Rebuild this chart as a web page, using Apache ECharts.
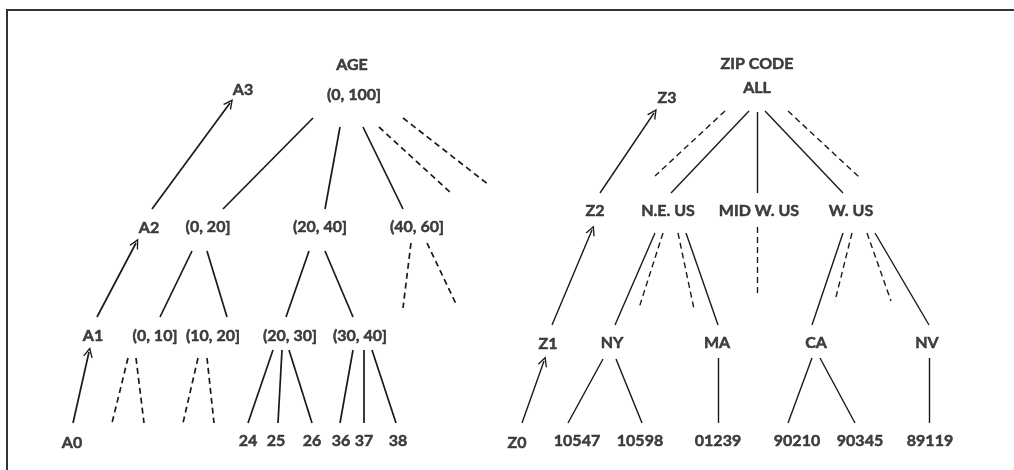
<!DOCTYPE html>
<html>
<head>
<meta charset="utf-8">
<script src="https://cdn.jsdelivr.net/npm/echarts@6/dist/echarts.min.js"></script>
<style>
  html, body { margin: 0; padding: 0; background: #fff; }
  #chart { width: 1014px; height: 470px; }
</style>
</head>
<body>
<div id="chart"></div>
<script>
// node labels of the two hierarchies, placed in picture units
const ageNames = ['AGE', '(0, 100]', 'A3', 'A2', '(0, 20]', '(20, 40]', '(40, 60]', 'A1', '(0, 10]', '(10, 20]', '(20, 30]', '(30, 40]', 'A0', '24', '25', '26', '36', '37', '38']
const ageX = [352, 354, 243, 149, 208, 320, 417, 93, 155, 213, 290, 360, 72, 248, 276, 312, 341, 364, 398]
const ageY = [65, 95, 90, 228, 227, 227, 227, 336, 336, 336, 336, 336, 443, 441, 441, 441, 441, 441, 441]

const zipNames = ['ZIP CODE', 'ALL', 'Z3', 'Z2', 'N.E. US', 'MID W. US', 'W. US', 'Z1', 'NY', 'MA', 'CA', 'NV', 'Z0', '10547', '10598', '01239', '90210', '90345', '89119']
const zipX = [757, 757, 667, 595, 668, 759, 851, 548, 612, 717, 816, 927, 517, 577, 640, 718, 797, 860, 930]
const zipY = [64, 88, 98, 211, 211, 211, 211, 344, 343, 343, 343, 343, 443, 441, 441, 441, 441, 441, 441]

// edges: [x1, y1, x2, y2]
const ageSolid = [
  [313, 118, 223, 209], [340, 127, 325, 209], [363, 127, 403, 209],
  [192, 251, 160, 317], [207, 251, 227, 317], [309, 251, 286, 317], [325, 251, 353, 317],
  [273, 350, 248, 423], [282, 350, 278, 423], [289, 350, 312, 423],
  [353, 350, 340, 423], [364, 350, 364, 423], [372, 350, 396, 423]
]
const ageDashed = [
  [379, 127, 451, 193], [403, 118, 489, 185], [411, 243, 403, 308], [427, 243, 457, 306],
  [128, 358, 112, 423], [136, 358, 144, 423], [198, 358, 183, 423], [207, 358, 214, 423]
]
const ageArrows = [[152, 209, 230, 103], [97, 317, 136, 243], [73, 423, 89, 352]]

const zipSolid = [
  [749, 111, 671, 193], [757, 112, 757, 193], [765, 111, 843, 193],
  [655, 233, 615, 325], [686, 233, 718, 325], [843, 233, 812, 325], [875, 233, 929, 325],
  [603, 359, 568, 423], [616, 359, 642, 423], [718, 358, 718, 423],
  [812, 358, 788, 423], [820, 358, 855, 423], [929, 358, 929, 423]
]
const zipDashed = [
  [725, 111, 655, 176], [788, 111, 859, 177], [757, 227, 757, 297],
  [663, 233, 639, 308], [678, 233, 694, 309], [852, 233, 835, 301], [867, 233, 891, 301]
]
const zipArrows = [[600, 193, 654, 113], [552, 325, 592, 230], [522, 423, 544, 361]]

const ink = '#1a1a1a'
const arrowHead = 'path://M5,0 L10,10 L8.5,10 L5,3 L1.5,10 L0,10 Z'

function toNodes(names, xs, ys) {
  return names.map((n, i) => ({ name: n, value: [xs[i], ys[i]] }))
}
function toLines(list) {
  return list.map(e => ({ coords: [[e[0], e[1]], [e[2], e[3]]] }))
}
function labelSeries(data) {
  return {
    type: 'scatter',
    data: data,
    symbolSize: 1,
    itemStyle: { color: 'transparent' },
    label: {
      show: true,
      position: 'inside',
      formatter: '{b}',
      color: '#111',
      fontFamily: 'Lato',
      fontWeight: 'bold',
      fontSize: 16,
      textBorderColor: '#111',
      textBorderWidth: 0.5
    },
    silent: true,
    z: 3
  }
}
function lineSeries(data, width, dashed, arrow) {
  return {
    type: 'lines',
    coordinateSystem: 'cartesian2d',
    data: data,
    symbol: arrow ? ['none', arrowHead] : ['none', 'none'],
    symbolSize: arrow ? [10, 10] : 0,
    lineStyle: {
      color: ink,
      width: width,
      opacity: 1,
      type: dashed ? [6, 4] : 'solid'
    },
    silent: true,
    z: 2
  }
}

const chart = echarts.init(document.getElementById('chart'))
chart.setOption({
  animation: false,
  backgroundColor: '#fff',
  // the frame runs off the right and bottom edges of the picture
  graphic: [{
    type: 'rect',
    shape: { x: 7, y: 10, width: 1030, height: 480 },
    style: { fill: 'none', stroke: '#333', lineWidth: 2 },
    silent: true
  }],
  grid: { left: 7, top: 10, right: 0, bottom: 0 },
  xAxis: { type: 'value', min: 7, max: 1014, show: false },
  yAxis: { type: 'value', min: 10, max: 470, inverse: true, show: false },
  series: [
    lineSeries(toLines(ageSolid), 1.7, false, false),
    lineSeries(toLines(ageDashed), 1.7, true, false),
    lineSeries(toLines(ageArrows), 1.7, false, true),
    lineSeries(toLines(zipSolid), 1.4, false, false),
    lineSeries(toLines(zipDashed), 1.4, true, false),
    lineSeries(toLines(zipArrows), 1.4, false, true),
    labelSeries(toNodes(ageNames, ageX, ageY)),
    labelSeries(toNodes(zipNames, zipX, zipY))
  ]
})
</script>
</body>
</html>
